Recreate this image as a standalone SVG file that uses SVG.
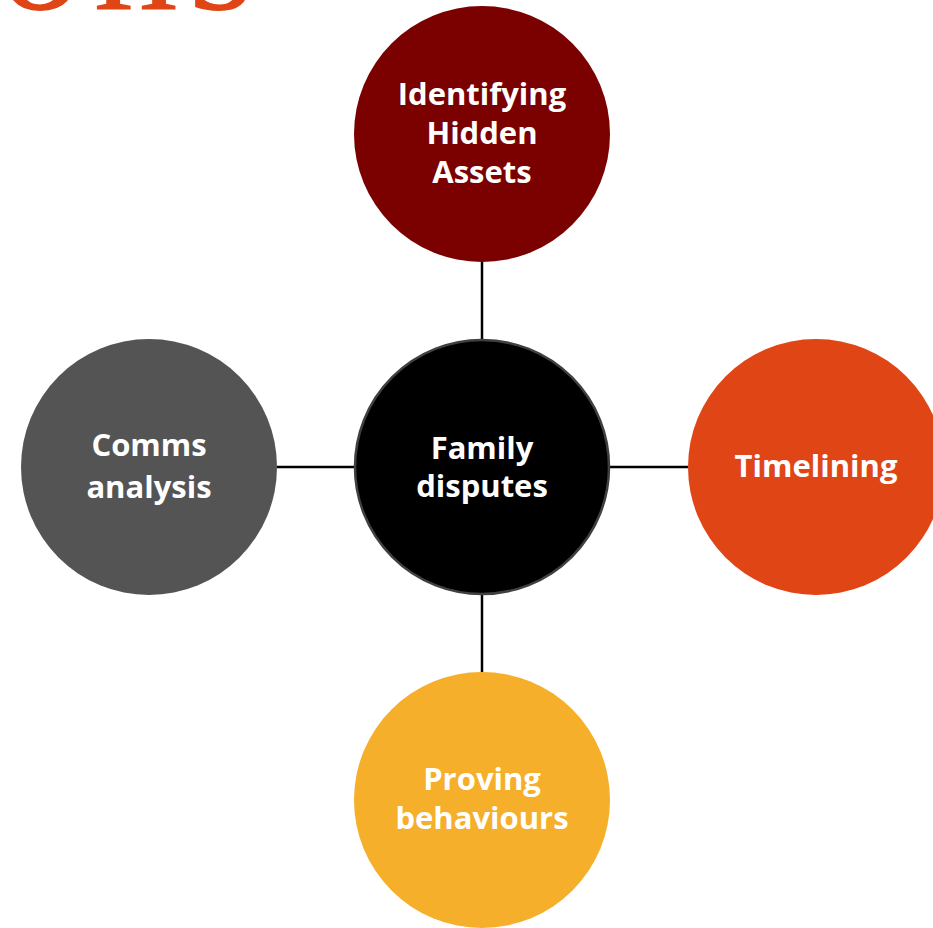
<svg xmlns="http://www.w3.org/2000/svg" width="933" height="928" viewBox="0 0 933 928">
<style>
.lbl{font-family:"Open Sans","Liberation Sans",sans-serif;font-weight:bold;font-size:31px;fill:#ffffff;text-anchor:middle}
.conn{stroke:#000000;stroke-width:2.5;fill:none}
</style>
<rect x="0" y="0" width="933" height="928" fill="#ffffff"/>
<text x="-2" y="9" font-family="Liberation Serif, serif" font-size="170" letter-spacing="10" fill="#E04515">ons</text>
<g id="connectors">
<line class="conn" x1="482" y1="262" x2="482" y2="340"/>
<line class="conn" x1="482" y1="595" x2="482" y2="672"/>
<line class="conn" x1="277" y1="467" x2="355" y2="467"/>
<line class="conn" x1="610" y1="467" x2="688" y2="467"/>
</g>
<g id="node-hidden-assets">
<circle cx="482" cy="134" r="128" fill="#7B0000"/>
<text class="lbl" x="482" y="105">Identifying</text>
<text class="lbl" x="482" y="144">Hidden</text>
<text class="lbl" x="482" y="183">Assets</text>
</g>
<g id="node-family-disputes">
<circle cx="482" cy="467" r="127" fill="#000000" stroke="#404040" stroke-width="2.5"/>
<text class="lbl" x="482" y="459">Family</text>
<text class="lbl" x="482" y="497">disputes</text>
</g>
<g id="node-comms">
<circle cx="149" cy="467" r="128" fill="#545454"/>
<text class="lbl" x="149" y="456">Comms</text>
<text class="lbl" x="149" y="498">analysis</text>
</g>
<g id="node-timelining">
<circle cx="816" cy="467" r="128" fill="#E04515"/>
<text class="lbl" x="816" y="477">Timelining</text>
</g>
<g id="node-behaviours">
<circle cx="482" cy="800" r="128" fill="#F6AF2A"/>
<text class="lbl" x="482" y="790">Proving</text>
<text class="lbl" x="482" y="829">behaviours</text>
</g>
</svg>
